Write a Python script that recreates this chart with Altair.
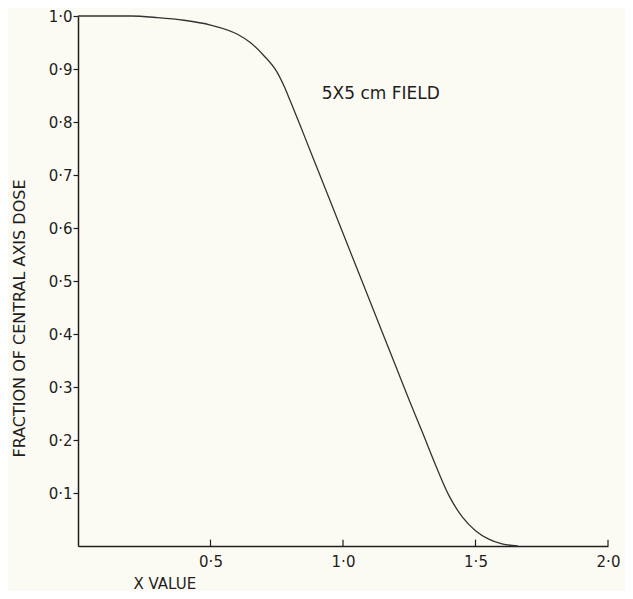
import altair as alt
import pandas as pd

# Curve
x_vals = [0.0, 0.1, 0.2, 0.3, 0.4, 0.5, 0.6, 0.65, 0.7, 0.75, 0.78, 0.8, 0.85, 0.9,
          1.0, 1.1, 1.2, 1.25, 1.3, 1.35, 1.4, 1.45, 1.5, 1.55, 1.6, 1.66]
dose = [1.0, 1.0, 1.0, 0.997, 0.992, 0.983, 0.966, 0.950, 0.926, 0.895, 0.865, 0.841,
        0.779, 0.716, 0.590, 0.464, 0.338, 0.275, 0.214, 0.152, 0.095, 0.055, 0.029,
        0.013, 0.004, 0.0]

x_ticks = [0.5, 1.0, 1.5, 2.0]
y_ticks = [0.1, 0.2, 0.3, 0.4, 0.5, 0.6, 0.7, 0.8, 0.9, 1.0]

annot_x = [0.92]
annot_y = [0.853]
annot_text = ["5X5 cm FIELD"]

curve = pd.DataFrame({"x": x_vals, "y": dose})
ticks = pd.DataFrame({"x": x_ticks, "y0": [0.0] * len(x_ticks), "y1": [0.012] * len(x_ticks)})
annot = pd.DataFrame({"x": annot_x, "y": annot_y, "t": annot_text})

FONT = "DejaVu Sans"
INK = "#1e1e1e"
label_expr = "replace(format(datum.value, '.1f'), '.', '·')"

xscale = alt.Scale(domain=[0, 2.0], nice=False)
yscale = alt.Scale(domain=[0, 1.0], nice=False)

line = alt.Chart(curve).mark_line(color="#333333", strokeWidth=1.3, interpolate="monotone").encode(
    x=alt.X("x:Q", scale=xscale,
            axis=alt.Axis(values=x_ticks, labelExpr=label_expr, ticks=False, grid=False,
                          labelFlush=False,
                          domainColor=INK, domainWidth=1.5, labelPadding=8,
                          labelFont=FONT, labelFontSize=15, labelColor=INK,
                          title="X VALUE", titleFont=FONT, titleFontSize=15,
                          titleFontWeight="normal", titleColor=INK,
                          titleAnchor="start", titleAlign="left", titleX=55, titleY=37,
                          titleBaseline="middle")),
    y=alt.Y("y:Q", scale=yscale,
            axis=alt.Axis(values=y_ticks, labelExpr=label_expr, grid=False,
                          labelFlush=False,
                          domainColor=INK, domainWidth=1.5, tickColor=INK, tickSize=5,
                          tickWidth=1.2, labelPadding=1,
                          labelFont=FONT, labelFontSize=15, labelColor=INK,
                          title="FRACTION OF CENTRAL AXIS DOSE", titleFont=FONT,
                          titleFontSize=16, titleFontWeight="normal", titleColor=INK,
                          titleX=-59, titleY=302, titleAngle=-90, titleAlign="center",
                          titleBaseline="middle")),
)

tick_rules = alt.Chart(ticks).mark_rule(color=INK, strokeWidth=1.2).encode(
    x=alt.X("x:Q", scale=xscale),
    y=alt.Y("y0:Q", scale=yscale),
    y2="y1:Q",
)

label = alt.Chart(annot).mark_text(align="left", baseline="middle", font=FONT,
                                   fontSize=17, color=INK).encode(
    x=alt.X("x:Q", scale=xscale),
    y=alt.Y("y:Q", scale=yscale),
    text="t:N",
)

chart = (line + tick_rules + label).properties(
    width=530, height=530,
    autosize=alt.AutoSizeParams(type="none"),
    padding={"left": 70, "top": 8, "right": 17, "bottom": 45},
    background="#fcfbf3",
).configure_view(stroke=None)

chart.save("out.html", embed_options={"renderer": "svg", "actions": False})
